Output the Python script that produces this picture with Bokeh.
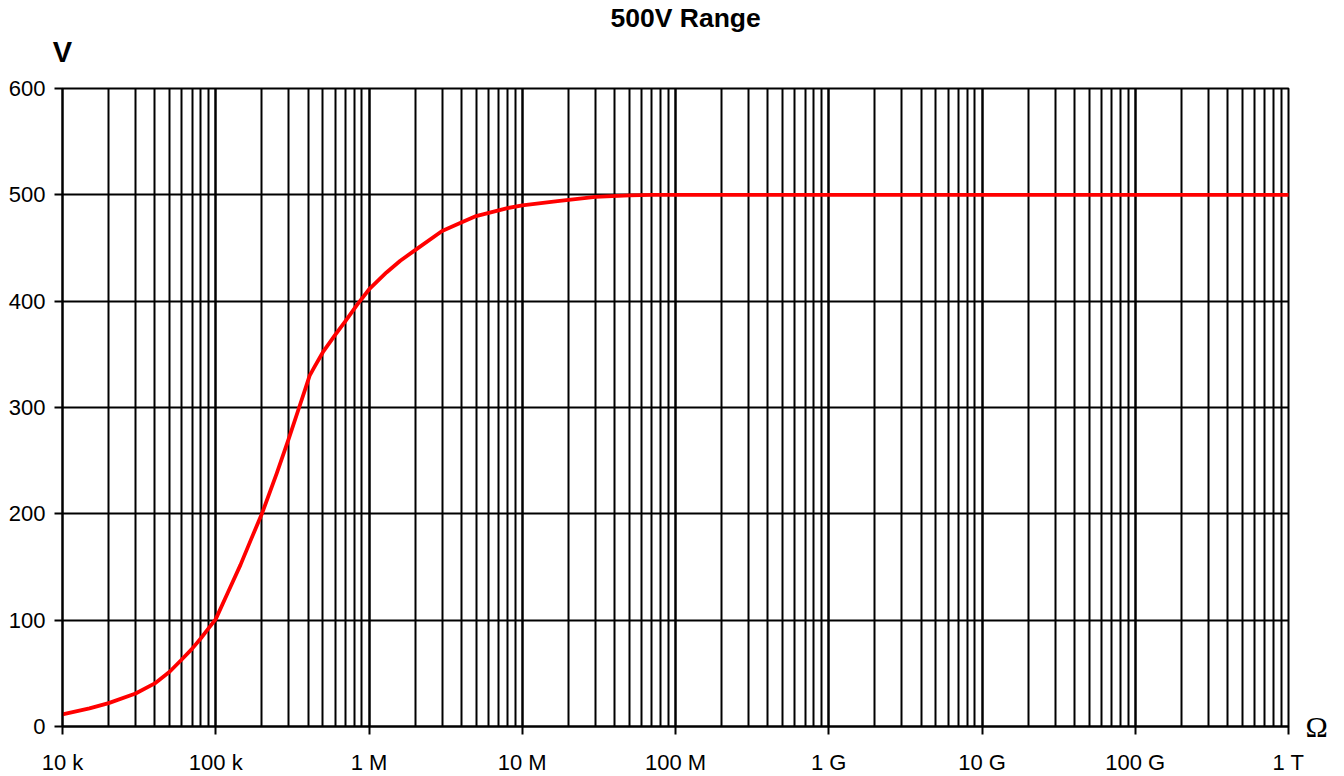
from bokeh.plotting import figure
from bokeh.models import (Range1d, FixedTicker, CustomJSTickFormatter,
                          LinearAxis, LogAxis)
from bokeh.embed import file_html
from bokeh.resources import INLINE

# ---- data ----
resistance = [1e4, 1.5e4, 2e4, 3e4, 4e4, 5e4, 6e4, 7e4, 8e4, 9e4, 1e5, 1.2e5,
              1.45e5, 1.7e5, 2e5, 2.5e5, 3e5, 3.5e5, 3.85e5, 4.1e5, 4.4e5, 5e5,
              6e5, 7e5, 8.4e5, 1e6, 1.3e6, 1.6e6, 2e6, 3e6, 4e6, 5e6, 8e6,
              1e7, 1.7e7, 3e7, 5e7, 7e7, 1e8, 1e9, 1e10, 1e11, 1e12]
voltage = [11.5, 17, 22, 31, 40.5, 51.5, 63, 73, 83, 92.5, 101, 126,
           152, 176, 200, 238, 271, 300, 318, 330, 338, 352,
           368, 381, 397, 411, 427, 438, 448, 466, 474, 480, 487.5,
           490, 494, 498, 499.5, 500, 500, 500, 500, 500, 500]
x_ticks = [1e4, 1e5, 1e6, 1e7, 1e8, 1e9, 1e10, 1e11, 1e12]
x_tick_labels = ["10 k", "100 k", "1 M", "10 M", "100 M", "1 G", "10 G", "100 G", "1 T"]
y_ticks = [0, 100, 200, 300, 400, 500, 600]
title_text = "500V Range"
y_unit = "V"
x_unit = "\u03a9"

FL, FT, FW, FH = 62, 88, 1226, 638
W, H = 1344, 776

p = figure(x_axis_type="log", output_backend="svg", toolbar_location=None,
           frame_width=FW, frame_height=FH,
           min_border_left=FL, min_border_top=FT,
           min_border_right=W - (FL + FW), min_border_bottom=H - (FT + FH),
           x_range=Range1d(1e4, 1e12), y_range=Range1d(0, 600))
p.background_fill_color = "white"
p.border_fill_color = "white"
p.outline_line_color = "black"
p.outline_line_width = 2

minor = [m * 10 ** e for e in range(4, 12) for m in range(2, 10)]
p.xaxis.ticker = FixedTicker(ticks=x_ticks, minor_ticks=minor)
p.yaxis.ticker = FixedTicker(ticks=y_ticks)
p.xaxis.formatter = CustomJSTickFormatter(args=dict(labels=x_tick_labels), code="""
    const i = Math.round(Math.log10(tick)) - 4;
    return labels[i];
""")

for ax in (p.xaxis, p.yaxis):
    ax.axis_line_color = "black"
    ax.axis_line_width = 2
    ax.major_tick_line_color = "black"
    ax.major_tick_line_width = 2
    ax.major_tick_out = 8
    ax.major_tick_in = 0
    ax.minor_tick_out = 0
    ax.minor_tick_in = 0
    ax.major_label_text_font = "Liberation Sans"
    ax.major_label_text_font_size = "22px"
    ax.major_label_text_color = "black"
p.xaxis.major_label_standoff = 15
p.yaxis.major_label_standoff = 9

def unit_axis(cls, tick, text, standoff, font, size, style):
    return cls(ticker=FixedTicker(ticks=[tick]),
               formatter=CustomJSTickFormatter(args=dict(u=text), code="return u;"),
               axis_line_color=None, major_tick_line_color=None,
               minor_tick_line_color=None, major_tick_out=0, major_tick_in=0,
               minor_tick_out=0, minor_tick_in=0,
               major_label_standoff=standoff,
               major_label_text_font=font,
               major_label_text_font_style=style,
               major_label_text_font_size=size,
               major_label_text_color="black")

# x unit (Ω) at the right end of the x axis, y unit (V) above the y axis
p.add_layout(unit_axis(LinearAxis, 0, x_unit, 17, "Liberation Serif", "30px", "normal"), "right")
p.add_layout(unit_axis(LogAxis, x_ticks[0], y_unit, 21, "Liberation Sans", "29px", "bold"), "above")

p.xgrid.grid_line_color = "black"
p.xgrid.grid_line_width = 2.5
p.xgrid.minor_grid_line_color = "black"
p.xgrid.minor_grid_line_width = 2
p.ygrid.grid_line_color = "black"
p.ygrid.grid_line_width = 2

p.line(resistance, voltage, line_color="#ff0000", line_width=3.8,
       line_join="round", line_cap="round")

p.title.text = title_text
p.title.align = "left"
p.title.offset = 548
p.title.standoff = 0
p.title.text_font = "Liberation Sans"
p.title.text_font_style = "bold"
p.title.text_font_size = "26.5px"
p.title.text_color = "black"

open("out.html", "w").write(file_html(p, INLINE))
